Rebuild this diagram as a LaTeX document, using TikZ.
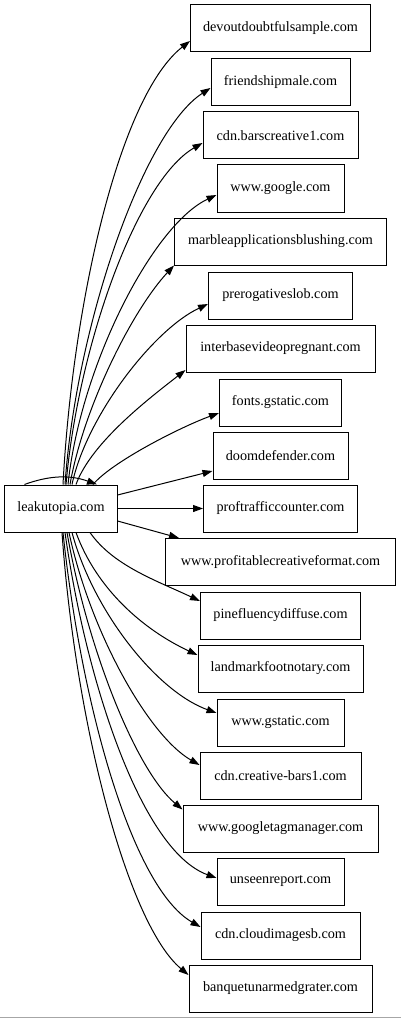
\documentclass[tikz,border=0pt]{standalone}
\usepackage{fontspec}
\setmainfont{Liberation Serif}
\usetikzlibrary{arrows.meta,positioning}

\begin{document}
\begin{tikzpicture}[x=1pt,y=1pt,
    site/.style={draw,line width=1pt,minimum height=47pt,inner xsep=12.5pt,
                 font=\fontsize{14.2}{16}\selectfont},
    link/.style={line width=1pt,-{Triangle[length=10pt,width=7pt]}}]
  \useasboundingbox (0,0) rectangle (401,-1019);

  %% Source host
  \node[site,minimum width=112pt] (leak) at (61,-508.5) {leakutopia.com};

  %% Contacted hosts, top to bottom
  \foreach \n/\lbl/\y/\w in {devout/devoutdoubtfulsample.com/28.5/179,
                          friend/friendshipmale.com/82.5/139,
                          barscr/cdn.barscreative1.com/135.5/155,
                          google/www.google.com/188.5/127,
                          marble/marbleapplicationsblushing.com/241.5/212,
                          prerog/prerogativeslob.com/295.5/144,
                          interb/interbasevideopregnant.com/348.5/189,
                          fonts/fonts.gstatic.com/402.5/122,
                          doom/doomdefender.com/455.5/135,
                          proftr/proftrafficcounter.com/508.5/154,
                          profit/www.profitablecreativeformat.com/562/230,
                          pinefl/pinefluencydiffuse.com/615.5/160,
                          landmk/landmarkfootnotary.com/668.5/165,
                          gstat/www.gstatic.com/722.5/127,
                          crbars/cdn.creative-bars1.com/775.5/161,
                          gtm/www.googletagmanager.com/828.5/195,
                          unseen/unseenreport.com/881.5/127,
                          cloudim/cdn.cloudimagesb.com/935.5/159,
                          banquet/banquetunarmedgrater.com/988.5/183}{
    \node[site,minimum width=\w pt] (\n) at (280.5,-\y) {\lbl};
  }

  %% Curved requests (start anchor/shift, out, target anchor/shift, in)
  \foreach \n/\sa/\sx/\oa/\ol/\ta/\ty/\ia/\il in {
      devout/north/2/87/180/west/-12.5/218/90,
      friend/north/4/86/160/west/-5.5/213/80,
      barscr/north/5/85/140/west/-7.5/210/75,
      google/north/7/84/120/west/-6.5/205/70,
      marble/north/9/80/80/south west/0/227/60,
      prerog/north/11/78/70/west/-8.5/205/60,
      interb/north/15/70/45/west/-21.5/218/45,
      fonts/north/32/50/30/west/-10.5/200/40,
      pinefl/south/29/-55/40/west/14.5/155/50,
      landmk/south/15/-70/60/west/13.5/155/60,
      gstat/south/11/-75/80/west/9.5/160/65,
      crbars/south/8/-78/100/west/10.5/150/60,
      gtm/south/6/-80/120/north west/-5/140/60,
      unseen/south/4/-82/150/west/3.5/160/80,
      cloudim/south/2/-84/170/west/8.5/150/80,
      banquet/south/1/-86/190/west/13.5/140/80}{
    \draw[link] ([xshift=\sx pt]leak.\sa) .. controls +(\oa:\ol) and +(\ia:\il)
          .. ([yshift=\ty pt]\n.\ta);
  }

  %% Straight requests
  \draw[link] ([yshift=13.5pt]leak.east) -- ([yshift=-15.5pt]doom.west);
  \draw[link] (leak.east) -- (proftr.west);
  \draw[link] ([yshift=-12.5pt]leak.east) -- ([xshift=14pt]profit.north west);

  %% Self request
  \draw[link] ([xshift=20pt]leak.north west) .. controls +(20:25) and +(160:30)
        .. ([xshift=36pt]leak.north);

  %% Bottom rule
  \draw[gray!70,line width=1.5pt] (0,-1017.5) -- (401,-1017.5);
\end{tikzpicture}
\end{document}
